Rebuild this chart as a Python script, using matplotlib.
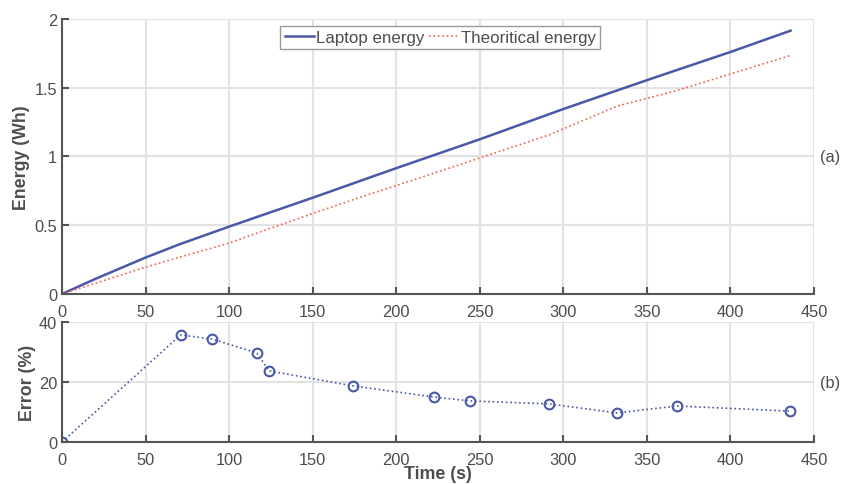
import matplotlib.pyplot as plt

# energy curves (time in s, energy in Wh)
t_laptop = [0, 20, 50, 70, 100, 150, 200, 250, 300, 350, 400, 436]
e_laptop = [0, 0.11, 0.265, 0.36, 0.49, 0.70, 0.915, 1.125, 1.345, 1.555, 1.76, 1.915]

t_theo = [0, 50, 71, 90, 100, 116, 124, 150, 174, 223, 244, 291, 332, 368, 436]
e_theo = [0, 0.195, 0.27, 0.335, 0.37, 0.44, 0.475, 0.585, 0.685, 0.88, 0.965, 1.155, 1.365, 1.48, 1.735]

# error samples
t_err = [0, 71, 90, 116.5, 124, 174, 222.5, 244, 291.5, 332, 368, 435.5]
err = [0, 35.7, 34.3, 29.7, 23.7, 18.7, 15.0, 13.7, 12.7, 9.7, 12.0, 10.3]

plt.rcParams['font.family'] = ['Liberation Sans', 'DejaVu Sans']
txt = '#4d4d4d'
spine = '#555555'
gridc = '#e2e2e2'

fig = plt.figure(figsize=(8.58, 4.85), dpi=100)
ax1 = fig.add_axes([0.0723, 0.3918, 0.8764, 0.567])
ax2 = fig.add_axes([0.0723, 0.0866, 0.8764, 0.2474])

for ax in (ax1, ax2):
    ax.set_xlim(0, 450)
    ax.set_xticks(range(0, 451, 50))
    ax.grid(True, color=gridc, linewidth=1.5)
    ax.set_axisbelow(True)
    for s in ['top', 'right']:
        ax.spines[s].set_visible(False)
    for s in ['left', 'bottom']:
        ax.spines[s].set_color(spine)
        ax.spines[s].set_linewidth(1.5)
    ax.tick_params(direction='in', length=5, width=1.5, colors=spine,
                   labelcolor=txt, labelsize=11.8)
    ax.tick_params(axis='x', pad=7)

ax1.plot(t_laptop, e_laptop, color='#4a58a8', linewidth=1.8, label='Laptop energy')
ax1.plot(t_theo, e_theo, color='#f2604f', linewidth=1.2, linestyle=':', label='Theoritical energy')
ax1.set_ylim(0, 2)
ax1.set_yticks([0, 0.5, 1, 1.5, 2])
ax1.set_yticklabels(['0', '0.5', '1', '1.5', '2'])
ax1.set_ylabel('Energy (Wh)', fontsize=12.8, fontweight='bold', color=txt, labelpad=3)
leg = ax1.legend(loc='upper center', bbox_to_anchor=(0.503, 0.975), ncol=2, fontsize=12.2,
                 frameon=True, fancybox=False, edgecolor='#999999', framealpha=1,
                 handlelength=1.75, handletextpad=0.1, columnspacing=0.3, borderpad=0.25,
                 borderaxespad=0)
for t in leg.get_texts():
    t.set_color(txt)
ax1.text(1.008, 0.5, '(a)', transform=ax1.transAxes, fontsize=11.8, color=txt, va='center')

ax2.plot(t_err, err, color='#4a58a8', linewidth=1.2, linestyle=':', marker='o',
         markersize=7, markerfacecolor='none', markeredgewidth=1.5)
ax2.set_ylim(0, 40)
ax2.set_yticks([0, 20, 40])
ax2.set_ylabel('Error (%)', fontsize=12.8, fontweight='bold', color=txt, labelpad=2)
ax2.set_xlabel('Time (s)', fontsize=12.8, fontweight='bold', color=txt, labelpad=-1)
ax2.text(1.008, 0.5, '(b)', transform=ax2.transAxes, fontsize=11.8, color=txt, va='center')

fig.savefig('out.png', dpi=100)
